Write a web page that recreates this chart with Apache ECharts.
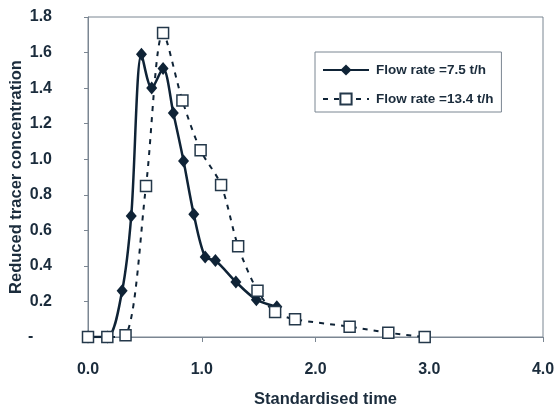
<!DOCTYPE html>
<html>
<head>
<meta charset="utf-8">
<script src="https://cdn.jsdelivr.net/npm/echarts@6/dist/echarts.min.js"></script>
<style>
  html, body { margin: 0; padding: 0; background: #fff; }
  #chart { width: 555px; height: 406px; }
</style>
</head>
<body>
<div id="chart"></div>
<script>
// Tracer response curves at two flow rates
const timeLow = [0, 0.17, 0.30, 0.38, 0.47, 0.56, 0.66, 0.75, 0.84, 0.93, 1.03, 1.12, 1.30, 1.48, 1.66];
const concLow = [0, 0, 0.26, 0.68, 1.59, 1.40, 1.51, 1.26, 0.99, 0.69, 0.45, 0.43, 0.31, 0.21, 0.17];

const timeHigh = [0, 0.17, 0.33, 0.51, 0.66, 0.83, 0.99, 1.17, 1.32, 1.49, 1.645, 1.82, 2.30, 2.64, 2.96];
const concHigh = [0, 0, 0.01, 0.85, 1.71, 1.33, 1.05, 0.855, 0.51, 0.26, 0.14, 0.10, 0.058, 0.024, 0];

const seriesNames = ['Flow rate =7.5 t/h', 'Flow rate =13.4 t/h'];
const xTitle = 'Standardised time';
const yTitle = 'Reduced tracer concentration';

const ink = '#0f2336';
const textInk = '#1b2c3c';
const axisGrey = '#7b8692';
const font = '"Liberation Sans", Arial, sans-serif';

const pairs = (xs, ys) => xs.map((x, i) => [x, ys[i]]);

const chart = echarts.init(document.getElementById('chart'), null, { renderer: 'canvas' });
chart.setOption({
  animation: false,
  backgroundColor: '#fff',
  textStyle: { fontFamily: font },
  grid: {
    left: 88, right: 12, top: 17, bottom: 69,
    containLabel: false,
    outerBoundsMode: 'none',
    show: true, borderColor: axisGrey, borderWidth: 1
  },
  legend: {
    orient: 'vertical',
    left: 315, top: 52,
    padding: [11, 8, 6, 7],
    itemGap: 15,
    itemWidth: 46,
    itemHeight: 14,
    borderColor: axisGrey,
    borderWidth: 1,
    backgroundColor: '#fff',
    itemStyle: { borderType: 'solid' },
    textStyle: { fontFamily: font, fontSize: 13.5, fontWeight: 'bold', color: textInk, padding: [0, 0, 0, 2] },
    data: seriesNames
  },
  xAxis: {
    type: 'value',
    min: 0, max: 4, interval: 1,
    name: xTitle,
    nameLocation: 'middle',
    nameGap: 54,
    nameMoveOverlap: false,
    nameTextStyle: { fontFamily: font, fontSize: 16.5, fontWeight: 'bold', color: textInk, padding: [0, 0, 0, 20] },
    axisLine: { show: true, lineStyle: { color: axisGrey, width: 1 } },
    axisTick: { show: true, inside: false, length: 5, lineStyle: { color: axisGrey } },
    axisLabel: {
      margin: 25, fontFamily: font, fontSize: 16, fontWeight: 'bold', color: textInk,
      formatter: v => v.toFixed(1)
    },
    splitLine: { show: false }
  },
  yAxis: {
    type: 'value',
    min: 0, max: 1.8, interval: 0.2,
    name: yTitle,
    nameLocation: 'middle',
    nameGap: 63,
    nameMoveOverlap: false,
    nameTextStyle: { fontFamily: font, fontSize: 16.5, fontWeight: 'bold', color: textInk },
    axisLine: { show: true, lineStyle: { color: axisGrey, width: 1 } },
    axisTick: { show: true, inside: false, length: 4, lineStyle: { color: axisGrey } },
    axisLabel: {
      margin: 36, fontFamily: font, fontSize: 16, fontWeight: 'bold', color: textInk,
      formatter: v => (Math.abs(v) < 1e-9 ? '{d|-}' : v.toFixed(1)),
      rich: { d: { width: 24, align: 'left', fontFamily: font, fontSize: 16, fontWeight: 'bold', color: textInk } }
    },
    splitLine: { show: false }
  },
  series: [
    {
      name: seriesNames[0],
      type: 'line',
      data: pairs(timeLow, concLow),
      smooth: 0.3,
      symbol: 'diamond',
      symbolSize: [11, 13],
      itemStyle: { color: ink },
      lineStyle: { color: ink, width: 2.5 },
      z: 2
    },
    {
      name: seriesNames[1],
      type: 'line',
      data: pairs(timeHigh, concHigh),
      smooth: 0.3,
      symbol: 'rect',
      symbolSize: 11,
      itemStyle: { color: '#fff', borderColor: '#24384a', borderWidth: 1.5, borderType: 'solid' },
      lineStyle: { color: ink, width: 2, type: [5, 6] },
      z: 3
    }
  ]
});
</script>
</body>
</html>
